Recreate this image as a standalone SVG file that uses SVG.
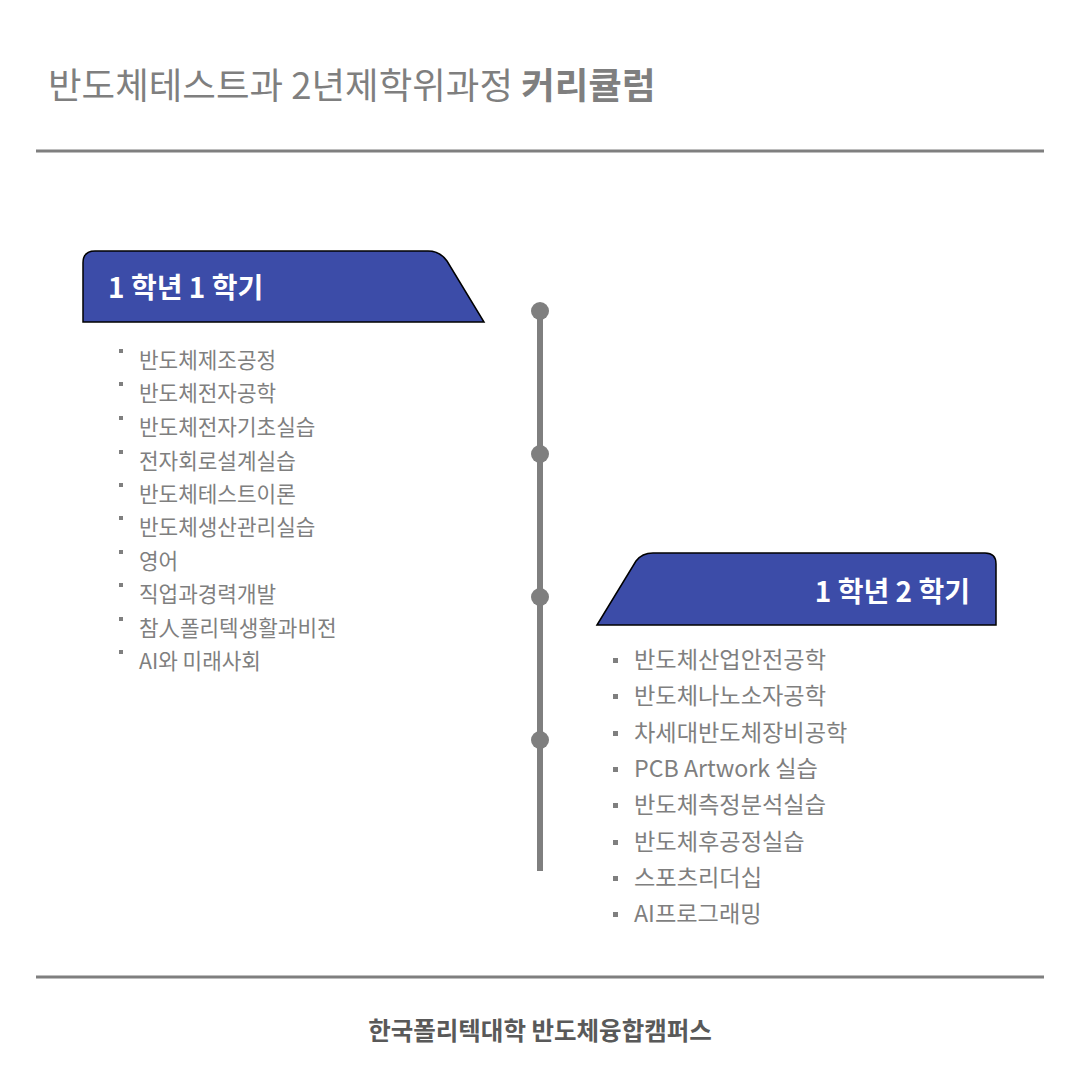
<svg xmlns="http://www.w3.org/2000/svg" width="1080" height="1080" viewBox="0 0 1080 1080">
<style>
text{font-family:"Noto Sans CJK KR","Liberation Sans",sans-serif;}
.title{font-size:36.5px;fill:#7f7f7f;}
.hd{font-size:28px;font-weight:bold;fill:#ffffff;}
.li{font-size:21.3px;fill:#7f7f7f;}
.ri{font-size:23.2px;fill:#7f7f7f;}
.foot{font-size:24.5px;font-weight:bold;fill:#595959;}
.rule{stroke:#7f7f7f;stroke-width:3;}
.tab{fill:#3c4ca8;stroke:#000;stroke-width:1.5;}
.dot{fill:#7f7f7f;}
.lb{fill:#7f7f7f;}
</style>
<rect width="1080" height="1080" fill="#ffffff"/>
<g id="title">
<text class="title" x="48" y="99">반도체테스트과 2년제학위과정 <tspan font-weight="bold">커리큘럼</tspan></text>
</g>
<line class="rule" x1="36" y1="151" x2="1044" y2="151"/>
<g id="connectors">
<line x1="540" y1="311" x2="540" y2="871" stroke="#7f7f7f" stroke-width="6"/>
<circle class="dot" cx="540" cy="311" r="9"/>
<circle class="dot" cx="540" cy="454" r="9"/>
<circle class="dot" cx="540" cy="597" r="9"/>
<circle class="dot" cx="540" cy="740" r="9"/>
</g>
<g id="sem1">
<path class="tab" d="M83,322 L83,263 Q83,251 95,251 L428,251 Q440,251 447,261 L484,322 Z"/>
<text class="hd" x="108" y="298">1 학년 1 학기</text>
</g>
<g id="sem1-list">
<rect class="lb" x="119" y="349" width="4" height="4"/>
<text class="li" x="139" y="368">반도체제조공정</text>
<rect class="lb" x="119" y="382" width="4" height="4"/>
<text class="li" x="139" y="401">반도체전자공학</text>
<rect class="lb" x="119" y="416" width="4" height="4"/>
<text class="li" x="139" y="435">반도체전자기초실습</text>
<rect class="lb" x="119" y="450" width="4" height="4"/>
<text class="li" x="139" y="469">전자회로설계실습</text>
<rect class="lb" x="119" y="483" width="4" height="4"/>
<text class="li" x="139" y="502">반도체테스트이론</text>
<rect class="lb" x="119" y="516" width="4" height="4"/>
<text class="li" x="139" y="535">반도체생산관리실습</text>
<rect class="lb" x="119" y="550" width="4" height="4"/>
<text class="li" x="139" y="569">영어</text>
<rect class="lb" x="119" y="583" width="4" height="4"/>
<text class="li" x="139" y="602">직업과경력개발</text>
<rect class="lb" x="119" y="617" width="4" height="4"/>
<text class="li" x="139" y="636">참人폴리텍생활과비전</text>
<rect class="lb" x="119" y="650" width="4" height="4"/>
<text class="li" x="139" y="669">AI와 미래사회</text>
</g>
<g id="sem2">
<path class="tab" d="M597,625 L636,561 Q642,553 653,553 L985,553 Q996,553 996,564 L996,625 Z"/>
<text class="hd" x="970" y="602" text-anchor="end">1 학년 2 학기</text>
</g>
<g id="sem2-list">
<rect class="lb" x="613" y="658" width="5" height="5"/>
<text class="ri" x="634" y="668">반도체산업안전공학</text>
<rect class="lb" x="613" y="694" width="5" height="5"/>
<text class="ri" x="634" y="704">반도체나노소자공학</text>
<rect class="lb" x="613" y="731" width="5" height="5"/>
<text class="ri" x="634" y="741">차세대반도체장비공학</text>
<rect class="lb" x="613" y="767" width="5" height="5"/>
<text class="ri" x="634" y="777">PCB Artwork 실습</text>
<rect class="lb" x="613" y="803" width="5" height="5"/>
<text class="ri" x="634" y="813">반도체측정분석실습</text>
<rect class="lb" x="613" y="840" width="5" height="5"/>
<text class="ri" x="634" y="850">반도체후공정실습</text>
<rect class="lb" x="613" y="876" width="5" height="5"/>
<text class="ri" x="634" y="886">스포츠리더십</text>
<rect class="lb" x="613" y="912" width="5" height="5"/>
<text class="ri" x="634" y="922">AI프로그래밍</text>
</g>
<line class="rule" x1="36" y1="977" x2="1044" y2="977"/>
<g id="footer">
<text class="foot" x="540" y="1040" text-anchor="middle">한국폴리텍대학 반도체융합캠퍼스</text>
</g>
</svg>
